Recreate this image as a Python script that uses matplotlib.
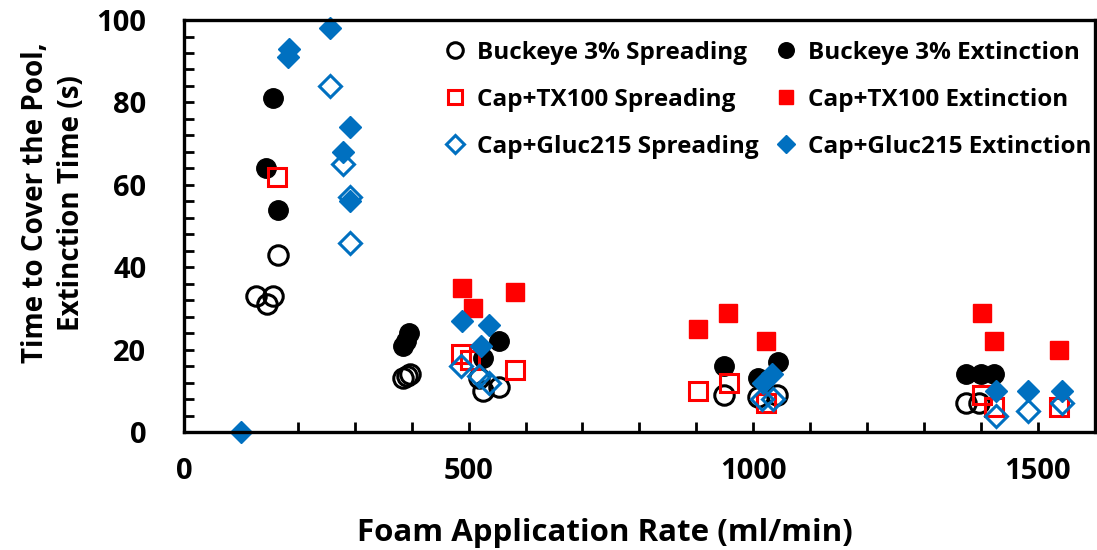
import numpy as np
import matplotlib
matplotlib.use('Agg')
import matplotlib.pyplot as plt
from matplotlib.ticker import MultipleLocator

plt.rcParams['font.family'] = ['Open Sans', 'DejaVu Sans']
plt.rcParams['font.weight'] = 'bold'

# Buckeye 3%
bk_spr_x = [127, 146, 157, 165, 384, 392, 397, 519, 525, 554, 949, 1009, 1041, 1374, 1397]
bk_spr_y = [33, 31, 33, 43, 13, 13.5, 14, 13, 10, 11, 9, 8.5, 9, 7, 7]
bk_ext_x = [144, 156, 165, 384, 390, 396, 525, 554, 949, 1009, 1043, 1374, 1400, 1423]
bk_ext_y = [64, 81, 54, 21, 22, 24, 18, 22, 16, 13, 17, 14, 14, 14]

# Cap+TX100
tx_spr_x = [164, 487, 502, 582, 903, 957, 1022, 1402, 1423, 1537]
tx_spr_y = [62, 19, 17.5, 15, 10, 12, 7, 9, 6, 6]
tx_ext_x = [489, 507, 582, 903, 955, 1022, 1402, 1423, 1537]
tx_ext_y = [35, 30, 34, 25, 29, 22, 29, 22, 20]

# Cap+Gluc215
gl_spr_x = [256, 279, 291, 291, 487, 519, 536, 1015, 1035, 1427, 1483, 1542]
gl_spr_y = [84, 65, 57, 46, 16, 13.5, 12, 8, 8, 4, 5, 7]
gl_ext_x = [100, 182, 185, 256, 279, 291, 291, 489, 521, 536, 1017, 1033, 1427, 1483, 1542]
gl_ext_y = [0, 91, 93, 98, 68, 74, 56, 27, 21, 26, 12, 14, 10, 10, 10]

blue = '#0070C0'
red = '#FF0000'

fig = plt.figure(figsize=(10.97, 5.5), dpi=100)
ax = fig.add_axes([0.1677, 0.2145, 0.8303, 0.7491])

h1, = ax.plot(bk_spr_x, bk_spr_y, 'o', ms=14, mfc='none', mec='black', mew=2.2, clip_on=False, label='Buckeye 3% Spreading')
h2, = ax.plot(bk_ext_x, bk_ext_y, 'o', ms=14, mfc='black', mec='black', mew=1, clip_on=False, label='Buckeye 3% Extinction')
h3, = ax.plot(tx_spr_x, tx_spr_y, 's', ms=13, mfc='none', mec=red, mew=2.2, clip_on=False, label='Cap+TX100 Spreading')
h4, = ax.plot(tx_ext_x, tx_ext_y, 's', ms=13, mfc=red, mec=red, mew=1, clip_on=False, label='Cap+TX100 Extinction')
h5, = ax.plot(gl_spr_x, gl_spr_y, 'D', ms=11, mfc='none', mec=blue, mew=2.2, clip_on=False, label='Cap+Gluc215 Spreading')
h6, = ax.plot(gl_ext_x, gl_ext_y, 'D', ms=11, mfc=blue, mec=blue, mew=1, clip_on=False, label='Cap+Gluc215 Extinction')

ax.set_xlim(0, 1600)
ax.set_ylim(0, 100)
ax.xaxis.set_major_locator(MultipleLocator(500))
ax.xaxis.set_minor_locator(MultipleLocator(100))
ax.yaxis.set_major_locator(MultipleLocator(20))
ax.yaxis.set_minor_locator(MultipleLocator(4))
ax.tick_params(which='both', direction='in', width=2, length=7, top=False, right=False)
ax.tick_params(axis='x', which='major', labelsize=21, pad=18)
ax.tick_params(axis='y', which='major', labelsize=21, pad=27)
for lab in ax.get_xticklabels() + ax.get_yticklabels():
    lab.set_fontweight('bold')
for s in ax.spines.values():
    s.set_linewidth(2.4)

ax.set_xlabel('Foam Application Rate (ml/min)', fontsize=22.5, fontweight='bold', va='center')
ax.xaxis.set_label_coords(0.462, -0.246)
ax.set_ylabel('Time to Cover the Pool,\nExtinction Time (s)', fontsize=20, fontweight='bold',
              linespacing=1.3, va='center')
ax.yaxis.set_label_coords(-0.1432, 0.556)

leg = ax.legend(handles=[h1, h3, h5, h2, h4, h6], ncol=2, frameon=False,
                loc='upper left', bbox_to_anchor=(0.284, 0.95), borderpad=0, borderaxespad=0,
                prop={'size': 17.5, 'weight': 'bold'}, handletextpad=0.4,
                columnspacing=0.66, labelspacing=0.95, handlelength=1.0, markerscale=0.8)

fig.savefig('out.png', dpi=100)
